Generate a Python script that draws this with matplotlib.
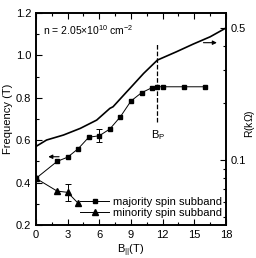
import matplotlib
matplotlib.use('Agg')
import matplotlib.pyplot as plt
from matplotlib.ticker import FixedLocator, NullFormatter, MultipleLocator

plt.rcParams['font.family'] = ['Liberation Sans', 'DejaVu Sans']
plt.rcParams['font.size'] = 8
plt.rcParams['mathtext.fontset'] = 'custom'
plt.rcParams['mathtext.rm'] = 'Liberation Sans'
plt.rcParams['mathtext.it'] = 'Liberation Sans'

# majority spin subband (squares)
maj_b = [0, 2, 3, 4, 5, 6, 7, 8, 9, 10, 11, 11.5, 12, 14, 16]
maj_f = [0.42, 0.50, 0.52, 0.56, 0.614, 0.621, 0.653, 0.711, 0.785, 0.824, 0.848, 0.852, 0.852, 0.852, 0.852]
maj_err = [0, 0, 0, 0, 0, 0.03, 0, 0, 0, 0, 0, 0, 0, 0, 0]

# minority spin subband (triangles)
min_b = [0, 2, 3, 4]
min_f = [0.42, 0.36, 0.354, 0.302]
min_err = [0, 0, 0.04, 0]

# resistance (right axis, log)
r_b = [0, 1.0, 2.6, 4.2, 5.75, 7.0, 7.3, 8.6, 8.9, 10.2, 11.5, 13.3, 14.9, 16.5, 18]
r_val = [0.118, 0.1276, 0.1356, 0.1471, 0.1627, 0.1877, 0.1914, 0.2298, 0.2395, 0.2875, 0.338, 0.374, 0.411, 0.449, 0.50]

fig = plt.figure(figsize=(2.56, 2.58), dpi=100)
ax = fig.add_axes([0.1406, 0.1279, 0.7422, 0.8217])
ax2 = ax.twinx()

ax.plot(maj_b, maj_f, color='black', marker='s', markersize=3.5, linewidth=0.7,
        label='majority spin subband')
ax.plot(min_b, min_f, color='black', marker='^', markersize=4, linewidth=0.7,
        label='minority spin subband')
# error bars only where there is one
eb = [(b, f, e) for b, f, e in zip(maj_b + min_b, maj_f + min_f, maj_err + min_err) if e > 0]
ax.errorbar([p[0] for p in eb], [p[1] for p in eb], yerr=[p[2] for p in eb], fmt='none',
            ecolor='black', elinewidth=0.7, capsize=2.2, capthick=0.7)
ax2.plot(r_b, r_val, color='black', linewidth=1.2)

ax.plot([11.5, 11.5], [0.686, 1.058], color='black', linestyle='--', linewidth=0.9)
ax.text(11.6, 0.625, r'B$_\mathrm{P}$', ha='center', va='center')
ax.text(0.7, 1.12, r'n = 2.05$\times$10$^{10}$ cm$^{-2}$', ha='left', va='center', fontsize=7.5)

ax.annotate('', xy=(0.9, 0.522), xytext=(2.45, 0.522),
            arrowprops=dict(arrowstyle='-|>', color='black', lw=0.8, mutation_scale=6))
ax.annotate('', xy=(17.4, 1.06), xytext=(15.6, 1.06),
            arrowprops=dict(arrowstyle='-|>', color='black', lw=0.8, mutation_scale=6))

ax.set_xlim(0, 18)
ax.set_ylim(0.2, 1.2)
ax.xaxis.set_major_locator(MultipleLocator(3))
ax.xaxis.set_minor_locator(MultipleLocator(1.5))
ax.yaxis.set_major_locator(MultipleLocator(0.2))
ax.yaxis.set_minor_locator(MultipleLocator(0.1))
ax.tick_params(which='both', direction='in', top=True, right=False)
ax.tick_params(which='major', length=4, width=0.8)
ax.tick_params(which='minor', length=2, width=0.8)
ax.set_yticklabels(['%.1f' % v for v in ax.get_yticks()])

ax2.set_yscale('log')
ax2.set_ylim(0.0453, 0.60)
ax2.yaxis.set_major_locator(FixedLocator([0.1, 0.5]))
ax2.yaxis.set_minor_locator(FixedLocator([0.05, 0.06, 0.07, 0.08, 0.09, 0.2, 0.3, 0.4]))
ax2.yaxis.set_minor_formatter(NullFormatter())
ax2.set_yticklabels(['0.1', '0.5'])
ax2.tick_params(which='both', direction='in')
ax2.tick_params(which='major', length=4, width=0.8)
ax2.tick_params(which='minor', length=2, width=0.8)

for a in (ax, ax2):
    for s in a.spines.values():
        s.set_linewidth(1.2)

ax.set_xlabel(r'B$_{||}$(T)', labelpad=2)
ax.set_ylabel('Frequency (T)', labelpad=2)
ax2.set_ylabel(r'R(k$\Omega$)', fontsize=7.5)
ax2.yaxis.set_label_coords(1.09, 0.48)

ax.legend(loc='lower right', frameon=False, handlelength=2.6, handletextpad=0.3,
          borderaxespad=0.0, labelspacing=0.1, bbox_to_anchor=(1.0, 0.012))

fig.savefig('out.png', dpi=100)
